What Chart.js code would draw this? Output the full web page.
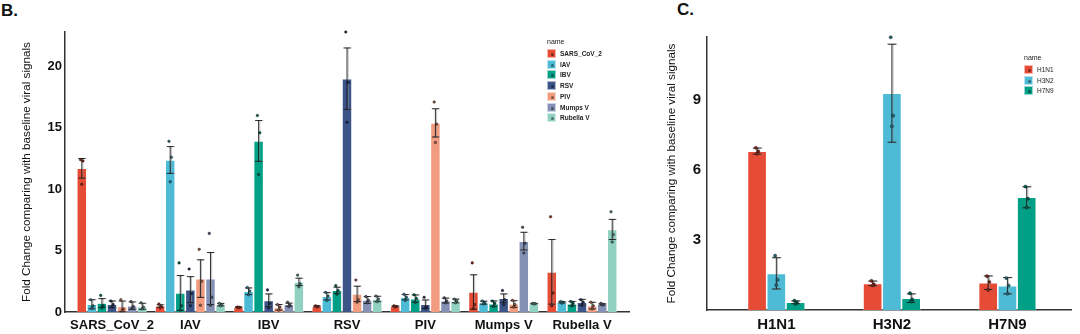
<!DOCTYPE html>
<html>
<head>
<meta charset="utf-8">
<script src="https://cdn.jsdelivr.net/npm/chart.js@4"></script>
<style>
  body { margin: 0; background: #fff; width: 1080px; height: 334px; position: relative; overflow: hidden;
         font-family: "Liberation Sans", Arial, sans-serif; }
  canvas { position: absolute; top: 0; }
  .panel { position: absolute; font-weight: bold; font-size: 17px; color: #111; }
  .leg { position: absolute; color: #222; }
  .leg .ttl { position: absolute; left: 0; font-size: 7px; white-space: nowrap; }
  .leg .key { position: absolute; left: 0; width: 9px; height: 9px; box-sizing: border-box;
              border: 0.5px solid rgba(255,255,255,0.6); }
  .leg .key i { position: absolute; left: 3px; top: 3px; width: 3px; height: 3px; border-radius: 50%;
                background: rgba(0,0,0,0.45); }
  .leg .lab { position: absolute; left: 13px; font-size: 6.5px; white-space: nowrap; line-height: 9px; }
</style>
</head>
<body>
<div class="panel" style="left:1px; top:1px">B.</div>
<div class="panel" style="left:677px; top:0px">C.</div>
<canvas id="chartB" width="640" height="334" style="left:0px"></canvas>
<canvas id="chartC" width="425" height="334" style="left:655px"></canvas>
<div class="leg" id="legB" style="left:547px; top:38px"></div>
<div class="leg" id="legC" style="left:1024px; top:54px"></div>
<script>
// ---- panel B data ----
const catsB = ['SARS_CoV_2', 'IAV', 'IBV', 'RSV', 'PIV', 'Mumps V', 'Rubella V'];
const namesB = ['SARS_CoV_2', 'IAV', 'IBV', 'RSV', 'PIV', 'Mumps V', 'Rubella V'];
const colorsB = ['#E64B35', '#4DBBD5', '#00A087', '#3C5488', '#F39B7F', '#8491B4', '#91D1C2'];

const sarsMean = [11.7, 0.49, 0.38, 0.46, 0.46, 1.63, 3.27];
const sarsErr  = [0.8, 0.1, 0.03, 0.04, 0.04, 1.4, 2.63];
const sarsPts  = [[12.4,12.3,10.4],[0.65,0.45,0.35],[0.4,0.38,0.36],[0.5,0.45,0.43],[0.5,0.45,0.42],[4.0,0.6,0.3],[7.76,1.55,0.5]];

const iavMean = [0.63, 12.38, 1.69, 1.28, 1.2, 0.76, 0.79];
const iavErr  = [0.37, 1.09, 0.27, 0.3, 0.22, 0.12, 0.05];
const iavPts  = [[1.0,0.5,0.3],[13.9,12.6,10.6],[2.0,1.7,1.4],[1.6,1.3,0.95],[1.45,1.2,0.95],[0.9,0.75,0.65],[0.85,0.8,0.72]];

const ibvMean = [0.73, 1.55, 13.93, 1.77, 1.09, 0.68, 0.68];
const ibvErr  = [0.36, 1.42, 1.66, 0.25, 0.3, 0.22, 0.18];
const ibvPts  = [[1.35,0.5,0.35],[4.0,0.5,0.15],[16.0,14.6,11.2],[2.15,1.75,1.45],[1.4,1.1,0.8],[0.9,0.7,0.45],[0.85,0.7,0.5]];

const rsvMean = [0.63, 1.82, 0.95, 19.0, 0.63, 1.12, 0.79];
const rsvErr  = [0.27, 1.06, 0.52, 2.5, 0.35, 0.35, 0.24];
const rsvPts  = [[0.9,0.6,0.4],[3.5,1.5,0.5],[1.8,0.7,0.35],[22.8,18.7,15.45],[1.2,0.4,0.3],[1.75,1.0,0.6],[1.0,0.8,0.55]];

const pivMean = [0.46, 2.72, 0.38, 1.47, 15.4, 0.65, 0.52];
const pivErr  = [0.43, 1.53, 0.23, 0.63, 1.15, 0.27, 0.27];
const pivPts  = [[1.0,0.25,0.1],[5.1,2.5,0.55],[0.6,0.4,0.15],[2.6,1.0,0.8],[17.1,15.3,13.8],[0.95,0.6,0.4],[0.8,0.5,0.25]];

const mumpsMean = [0.52, 2.72, 0.6, 0.98, 0.93, 5.77, 0.63];
const mumpsErr  = [0.3, 2.12, 0.12, 0.28, 0.2, 0.72, 0.05];
const mumpsPts  = [[0.85,0.45,0.3],[6.4,1.2,0.55],[0.8,0.55,0.45],[1.25,0.95,0.75],[1.15,0.9,0.75],[6.9,5.6,4.8],[0.7,0.62,0.57]];

const rubMean = [0.46, 0.6, 2.45, 1.06, 0.9, 0.68, 6.72];
const rubErr  = [0.25, 0.1, 0.3, 0.22, 0.15, 0.02, 0.82];
const rubPts  = [[0.75,0.4,0.25],[0.7,0.6,0.5],[3.0,2.3,2.05],[1.3,1.05,0.85],[1.05,0.9,0.75],[0.7,0.68,0.66],[8.16,6.3,5.7]];

const ticksB = [0, 5, 10, 15, 20];

// ---- panel C data ----
const catsC = ['H1N1', 'H3N2', 'H7N9'];
const namesC = ['H1N1', 'H3N2', 'H7N9'];
const colorsC = ['#E64B35', '#4DBBD5', '#00A087'];

const h1n1Mean = [6.81, 1.14, 1.17];
const h1n1Err  = [0.13, 0.1, 0.29];
const h1n1Pts  = [[6.95,6.8,6.7],[1.25,1.1,1.05],[1.45,1.2,0.86]];

const h3n2Mean = [1.57, 9.29, 1.04];
const h3n2Err  = [0.67, 2.1, 0.35];
const h3n2Pts  = [[2.33,1.29,1.07],[11.69,8.33,7.87],[1.37,1.05,0.7]];

const h7n9Mean = [0.33, 0.51, 4.83];
const h7n9Err  = [0.06, 0.18, 0.45];
const h7n9Pts  = [[0.4,0.33,0.26],[0.72,0.45,0.36],[5.29,4.77,4.4]];

const ticksC = [3, 6, 9];

const yTitle = 'Fold Change comparing with baseline viral signals';
const FONT = '"Liberation Sans", Arial, sans-serif';

function darker(hex, f) {
  const n = parseInt(hex.slice(1), 16);
  const r = Math.round(((n >> 16) & 255) * f), g = Math.round(((n >> 8) & 255) * f), b = Math.round((n & 255) * f);
  return `rgb(${r},${g},${b})`;
}

function makeDs(label, color, means, errs, pts) {
  return {
    label,
    data: means.map((v, i) => ({ x: i, y: v })),
    backgroundColor: color,
    borderColor: 'rgba(255,255,255,0.55)',
    borderWidth: 0.8,
    err: errs,
    pts: pts,
    dotColor: darker(color, 0.55)
  };
}

// error bars (with a faint grey shadow like the original) + replicate dots
const errPlugin = {
  id: 'errbars',
  afterDatasetsDraw(chart, args, opts) {
    const ctx = chart.ctx;
    const ys = chart.scales.y;
    const jit = [-1.2, 1.2, 0];
    ctx.save();
    chart.data.datasets.forEach((ds, di) => {
      const meta = chart.getDatasetMeta(di);
      meta.data.forEach((bar, i) => {
        const m = ds.data[i].y, e = ds.err[i];
        const yt = ys.getPixelForValue(m + e);
        const yb = ys.getPixelForValue(Math.max(m - e, 0));
        const cap = bar.width * opts.cap / 2;
        [[1.2, 'rgba(150,150,150,0.6)'], [0, 'rgba(15,15,15,0.85)']].forEach(([dx, col]) => {
          const x = bar.x + dx;
          ctx.strokeStyle = col;
          ctx.lineWidth = opts.lw;
          ctx.beginPath();
          ctx.moveTo(x, yt); ctx.lineTo(x, yb);
          ctx.moveTo(x - cap, yt); ctx.lineTo(x + cap, yt);
          ctx.moveTo(x - cap, yb); ctx.lineTo(x + cap, yb);
          ctx.stroke();
        });
        ds.pts[i].forEach((v, k) => {
          ctx.beginPath();
          ctx.arc(bar.x + jit[k], ys.getPixelForValue(v), opts.r, 0, Math.PI * 2);
          ctx.fillStyle = ds.dotColor;
          ctx.fill();
          ctx.lineWidth = 0.6;
          ctx.strokeStyle = 'rgba(0,0,0,0.6)';
          ctx.stroke();
        });
      });
    });
    ctx.restore();
  }
};

function makeChart(id, cats, datasets, cfg) {
  return new Chart(document.getElementById(id), {
    type: 'bar',
    data: { datasets },
    plugins: [errPlugin],
    options: {
      responsive: false,
      animation: false,
      devicePixelRatio: 1,
      categoryPercentage: cfg.catPct,
      barPercentage: 1,
      layout: { padding: { top: cfg.top, right: cfg.right, left: 0, bottom: 0 } },
      plugins: {
        legend: { display: false },
        tooltip: { enabled: false },
        errbars: { cap: cfg.cap, lw: 1, r: cfg.r }
      },
      scales: {
        x: {
          type: 'linear',
          offset: false,
          min: -0.6,
          max: cfg.xmax,
          afterBuildTicks: s => { s.ticks = cats.map((c, i) => ({ value: i })); },
          afterFit: s => { s.height = cfg.xh; },
          ticks: {
            callback: v => cats[v],
            autoSkip: false, maxRotation: 0,
            padding: cfg.xpad,
            color: '#111',
            font: { family: FONT, size: cfg.xfont, weight: 'bold' }
          },
          grid: { display: false, drawTicks: false },
          border: { display: true, color: '#333', width: 1.5 }
        },
        y: {
          min: 0,
          max: cfg.ymax,
          afterBuildTicks: s => { s.ticks = cfg.yticks.map(v => ({ value: v })); },
          afterFit: s => { s.width = cfg.yw; },
          ticks: {
            padding: cfg.ypad,
            color: '#111',
            font: { family: FONT, size: cfg.yfont, weight: 'bold' }
          },
          grid: { display: false, drawTicks: false },
          border: { display: true, color: '#333', width: 1.5 },
          title: {
            display: true,
            text: yTitle,
            color: '#111',
            font: { family: FONT, size: 11.7 },
            padding: { top: cfg.tpad, bottom: 0 }
          }
        }
      }
    }
  });
}

makeChart('chartB', catsB, [
  makeDs(namesB[0], colorsB[0], sarsMean, sarsErr, sarsPts),
  makeDs(namesB[1], colorsB[1], iavMean, iavErr, iavPts),
  makeDs(namesB[2], colorsB[2], ibvMean, ibvErr, ibvPts),
  makeDs(namesB[3], colorsB[3], rsvMean, rsvErr, rsvPts),
  makeDs(namesB[4], colorsB[4], pivMean, pivErr, pivPts),
  makeDs(namesB[5], colorsB[5], mumpsMean, mumpsErr, mumpsPts),
  makeDs(namesB[6], colorsB[6], rubMean, rubErr, rubPts)
], { catPct: 0.9, top: 32, right: 11, xmax: 6.6, xh: 22, xpad: 6, xfont: 13,
     ymax: 22.8, yticks: ticksB, yw: 65, ypad: 3, yfont: 13, tpad: 20, cap: 0.7, r: 1.3 });

makeChart('chartC', catsC, [
  makeDs(namesC[0], colorsC[0], h1n1Mean, h1n1Err, h1n1Pts),
  makeDs(namesC[1], colorsC[1], h3n2Mean, h3n2Err, h3n2Pts),
  makeDs(namesC[2], colorsC[2], h7n9Mean, h7n9Err, h7n9Pts)
], { catPct: 0.5, top: 37, right: 9, xmax: 2.55, xh: 24, xpad: 6, xfont: 15,
     ymax: 11.7, yticks: ticksC, yw: 52, ypad: 6, yfont: 15, tpad: 10, cap: 0.45, r: 1.6 });

// legends
function buildLegend(id, names, colors, bold) {
  const el = document.getElementById(id);
  const t = document.createElement('div');
  t.className = 'ttl'; t.textContent = 'name'; t.style.top = '0px';
  el.appendChild(t);
  names.forEach((n, i) => {
    const top = 11 + i * 10.7;
    const k = document.createElement('div');
    k.className = 'key'; k.style.top = top + 'px'; k.style.background = colors[i];
    k.appendChild(document.createElement('i'));
    const l = document.createElement('div');
    l.className = 'lab'; l.style.top = top + 'px'; l.textContent = n;
    l.style.fontWeight = bold ? 'bold' : 'normal';
    el.appendChild(k); el.appendChild(l);
  });
}
buildLegend('legB', namesB, colorsB, true);
buildLegend('legC', namesC, colorsC, false);
</script>
</body>
</html>
